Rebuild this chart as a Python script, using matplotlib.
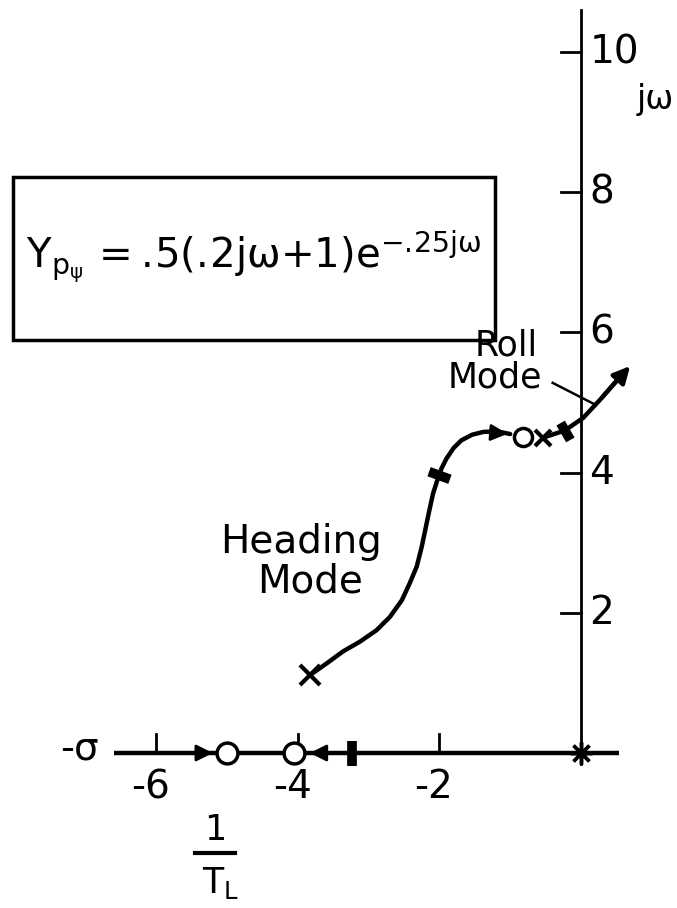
import matplotlib
matplotlib.use("Agg")
import matplotlib.pyplot as plt
from matplotlib.patches import Rectangle

# ---------------- data ----------------
x_ticks = [-6, -4, -2]
x_tick_labels = ["-6", "-4", "-2"]
y_ticks = [2, 4, 6, 8, 10]
y_tick_labels = ["2", "4", "6", "8", "10"]

origin_pole = [0.0, 0.0]                 # asterisk at origin
real_zeros = [-5.0, -4.05]               # open circles on the real axis
real_gain_mark = [-3.24, 0.0]            # thick bar on the real axis

heading_sigma = [-3.83, -3.59, -3.36, -3.12, -2.89, -2.70, -2.53, -2.42,
                 -2.32, -2.25, -2.19, -2.14, -2.09, -2.03, -1.97, -1.90,
                 -1.80, -1.69, -1.54, -1.38, -1.19, -1.00]
heading_omega = [1.11, 1.28, 1.45, 1.59, 1.75, 1.94, 2.18, 2.42,
                 2.66, 2.94, 3.23, 3.47, 3.70, 3.89, 4.06, 4.20,
                 4.35, 4.46, 4.54, 4.58, 4.59, 4.55]
heading_pole = [-3.83, 1.11]
heading_zero = [-0.82, 4.51]
heading_gain_mark = [-2.01, 3.97]

roll_sigma = [-0.53, -0.23, 0.03, 0.27, 0.51, 0.72]
roll_omega = [4.50, 4.60, 4.78, 5.04, 5.32, 5.55]
roll_pole = [-0.53, 4.50]
roll_gain_mark = [-0.23, 4.60]

formula = r"$\mathregular{Y_{p_{\psi}}\,{=}.\!5(.\!2j\omega{+}1)e^{{-}.\!25j\omega}}$"

# ---------------- figure ----------------
plt.rcParams['font.family'] = ['DejaVu Sans']
plt.rcParams['mathtext.fontset'] = 'dejavusans'
fig = plt.figure(figsize=(6.77, 9.08), dpi=100)
ax = fig.add_axes([0, 0, 1, 1])
ax.set_xlim(-581 / 70.8, 96 / 70.8)
ax.set_ylim(-155 / 70.1, 753 / 70.1)
ax.axis('off')

k = 'black'
# axes
ax.plot([-6.6, 0.53], [0, 0], color=k, lw=3.2, solid_capstyle='butt')
ax.plot([0, 0], [-0.15, 10.6], color=k, lw=2.0)
for t in x_ticks:
    ax.plot([t, t], [0, 0.27], color=k, lw=2.0)
for t in y_ticks:
    ax.plot([-0.28, 0], [t, t], color=k, lw=2.0)
for t, s in zip(x_ticks, x_tick_labels):
    ax.text(t - 0.08, -0.22, s, ha='center', va='top', fontsize=28)
for t, s in zip(y_ticks, y_tick_labels):
    ax.text(0.12, t, s, ha='left', va='center', fontsize=28)

ax.text(-7.08, 0.07, "-σ", ha='center', va='center', fontsize=28)
ax.text(1.05, 9.32, "jω", ha='center', va='center', fontsize=24)
ax.text(-5.17, -1.10, "1", ha='center', va='center', fontsize=25)
ax.plot([-5.45, -4.88], [-1.43, -1.43], color=k, lw=3)
ax.text(-5.09, -1.85, r"$\mathregular{T_L}$", ha='center', va='center', fontsize=25)

# real-axis marks
ax.plot(origin_pole[0], origin_pole[1], marker=(8, 2, 0), ms=16, mew=2.5, color=k)
ax.plot(real_zeros, [0, 0], 'o', ms=15, mfc='white', mec=k, mew=2.5)
ax.plot(real_gain_mark[0], real_gain_mark[1], marker=(2, 0, 0), ms=18, mew=7, color=k)
ax.annotate('', xy=(real_zeros[0] - 0.16, 0), xytext=(-5.6, 0),
            arrowprops=dict(arrowstyle='-|>', lw=2, color=k, mutation_scale=25))
ax.annotate('', xy=(real_zeros[1] + 0.18, 0), xytext=(-3.4, 0),
            arrowprops=dict(arrowstyle='-|>', lw=2, color=k, mutation_scale=25))

# heading mode locus
ax.plot(heading_sigma, heading_omega, color=k, lw=3.2,
        solid_capstyle='round', solid_joinstyle='round')
ax.annotate('', xy=(heading_sigma[-1], heading_omega[-1]),
            xytext=(heading_sigma[-3], heading_omega[-3]),
            arrowprops=dict(arrowstyle='-|>', lw=2, color=k, mutation_scale=25))
ax.plot(*heading_pole, marker='x', ms=15, mew=3, color=k)
ax.plot(*heading_zero, 'o', ms=13, mfc='white', mec=k, mew=2.5)
ax.plot(*heading_gain_mark, marker=(2, 0, 70), ms=16, mew=7, color=k)

# roll mode locus
ax.plot(roll_sigma[:-1], roll_omega[:-1], color=k, lw=3.2,
        solid_joinstyle='round')
ax.annotate('', xy=(roll_sigma[-1], roll_omega[-1]),
            xytext=(roll_sigma[-3], roll_omega[-3]),
            arrowprops=dict(arrowstyle='-|>', lw=3, color=k, mutation_scale=25))
ax.plot(*roll_pole, marker='x', ms=12, mew=3, color=k)
ax.plot(*roll_gain_mark, marker=(2, 0, 30), ms=14, mew=7, color=k)

# labels
ax.text(-3.95, 3.01, "Heading", ha='center', va='center', fontsize=28)
ax.text(-3.83, 2.45, "Mode", ha='center', va='center', fontsize=28)
ax.text(-1.06, 5.82, "Roll", ha='center', va='center', fontsize=25)
ax.text(-1.21, 5.36, "Mode", ha='center', va='center', fontsize=25)
ax.plot([-0.40, 0.20], [5.28, 4.97], color=k, lw=1.8)

# formula box
ax.add_patch(Rectangle((-8.02, 5.89), 6.81, 2.33, fill=False, lw=2.5, ec=k))
ax.text(-4.62, 7.08, formula, ha='center', va='center', fontsize=29)

fig.savefig("out.png", dpi=100)
